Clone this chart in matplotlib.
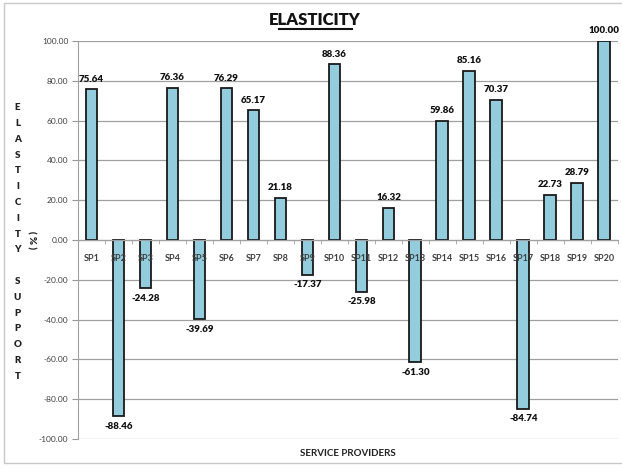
import numpy as np
import matplotlib.pyplot as plt
from matplotlib.patches import Rectangle

plt.rcParams['font.family'] = ['Lato', 'DejaVu Sans']

providers = ['SP%d' % i for i in range(1, 21)]
elasticity = [75.64, -88.46, -24.28, 76.36, -39.69, 76.29, 65.17, 21.18, -17.37, 88.36,
              -25.98, 16.32, -61.30, 59.86, 85.16, 70.37, -84.74, 22.73, 28.79, 100.00]
y_ticks = [-100, -80, -60, -40, -20, 0, 20, 40, 60, 80, 100]

fig = plt.figure(figsize=(6.22, 4.68), dpi=100)
ax = fig.add_axes([0.1254, 0.062, 0.868, 0.8504])

# gridlines behind the bars, category labels drawn on top of them
for t in y_ticks:
    ax.axhline(t, color='#a0a0a0', linewidth=0.9, zorder=0.5)

x = np.arange(len(providers))
bars = ax.bar(x, elasticity, width=0.44, color='#93CDDD', edgecolor='#1a1a1a',
              linewidth=1.3, zorder=1)

# value labels above positive bars, below negative ones
for b, v in zip(bars, elasticity):
    if v >= 0:
        ax.annotate('%.2f' % v, (b.get_x() + b.get_width() / 2, v), xytext=(0, 4),
                    textcoords='offset points', ha='center', va='bottom',
                    fontsize=7, fontweight='heavy', color='#111111')
    else:
        ax.annotate('%.2f' % v, (b.get_x() + b.get_width() / 2, v), xytext=(0, -4),
                    textcoords='offset points', ha='center', va='top',
                    fontsize=7, fontweight='heavy', color='#111111')

ax.set_xlim(-0.5, len(providers) - 0.5)
ax.set_ylim(-100, 100)
ax.set_yticks(y_ticks)
ax.set_yticklabels(['%.2f' % t for t in y_ticks], fontsize=6, color='#404040')
ax.tick_params(axis='y', length=4, color='#999999', pad=3)

# category axis sits on the zero line
ax.spines['bottom'].set_position(('data', 0))
ax.spines['bottom'].set_color('#a0a0a0')
ax.spines['left'].set_color('#a0a0a0')
ax.spines['top'].set_visible(False)
ax.spines['right'].set_visible(False)
ax.set_xticks(x)
ax.set_xticklabels(providers, fontsize=6.5, fontweight='bold', color='#404040')
ax.set_xticks(np.arange(len(providers) + 1) - 0.5, minor=True)
ax.tick_params(axis='x', which='major', length=0, pad=10)
ax.tick_params(axis='x', which='minor', length=3, color='#a0a0a0')

ax.set_xlabel('SERVICE PROVIDERS', fontsize=7, fontweight='bold', color='#222222', labelpad=4)
ax.xaxis.set_label_coords(0.5, -0.025)

fig.text(0.506, 0.957, 'ELASTICITY', ha='center', va='center', fontsize=12,
         fontweight='heavy', color='#111111')
fig.add_artist(plt.Line2D([0.448, 0.566], [0.937, 0.937], color='#111111', linewidth=1.5))

ylabel = '\n'.join(list('ELASTICITY') + [' '] + list('SUPPORT'))
fig.text(0.028, 0.483, ylabel, ha='center', va='center', fontsize=7,
         fontweight='heavy', color='#222222', linespacing=1.97)
fig.text(0.05, 0.487, '( % )', ha='center', va='center', fontsize=7,
         fontweight='heavy', color='#222222', rotation=270)

fig.add_artist(Rectangle((0.006, 0.01), 1.2, 0.983, transform=fig.transFigure,
                         fill=False, edgecolor='#c8c8c8', linewidth=1))

fig.savefig('out.png', dpi=100)
